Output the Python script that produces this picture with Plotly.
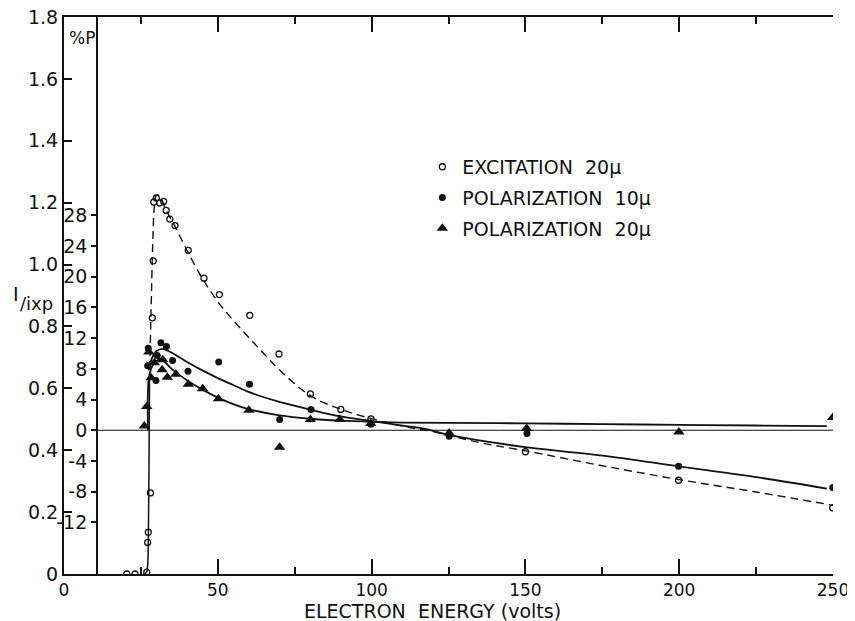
import plotly.graph_objects as go

# ---------------- data ----------------
# Excitation 20 micron (left axis, I/ixp)
exc_x = [20.4, 23.1, 26.9, 27.2, 27.4, 28.1, 28.7, 29.0, 29.2, 30.0, 31.1, 32.4, 33.2,
         34.4, 36.1, 40.4, 45.5, 50.5, 60.4, 69.9, 80.1, 90.0, 99.8, 150.0, 199.8, 249.9]
exc_y = [0.0, 0.0, 0.006, 0.102, 0.135, 0.262, 0.828, 1.012, 1.202, 1.215, 1.199, 1.204,
         1.175, 1.147, 1.126, 1.046, 0.956, 0.903, 0.836, 0.711, 0.582, 0.532, 0.501,
         0.395, 0.303, 0.214]

# Polarization 10 micron (%P axis)
pol10_x = [27.2, 27.4, 29.9, 30.3, 31.5, 33.3, 35.3, 40.3, 50.3, 60.3, 70.1, 80.3, 99.8,
           125.2, 150.5, 199.8, 249.9]
pol10_y = [8.4, 10.7, 6.5, 9.75, 11.4, 10.9, 9.1, 7.7, 8.9, 6.0, 1.4, 2.7, 0.78,
           -0.78, -0.43, -4.7, -7.45]

# Polarization 20 micron (%P axis)
pol20_x = [26.1, 26.9, 27.6, 28.3, 29.4, 31.9, 32.1, 33.6, 36.4, 40.4, 45.1, 50.2, 60.1,
           70.1, 80.1, 89.7, 99.7, 125.2, 150.4, 199.9, 249.9]
pol20_y = [0.56, 3.1, 10.2, 6.85, 8.8, 7.9, 9.2, 6.9, 7.3, 6.0, 5.4, 4.1, 2.6,
           -2.2, 1.4, 1.4, 0.87, -0.35, 0.22, -0.22, 1.65]

# Hand-drawn curves
exc_lo_x = [26.0, 26.8, 27.2, 27.4, 27.6, 27.8]
exc_lo_y = [0.0, 0.005, 0.03, 0.1, 0.3, 0.62]
exc_hi_x = [27.8, 28.3, 28.8, 29.3, 29.8, 30.5, 31.5, 33.0, 36.0, 40.0, 45.0, 50.0, 55.0,
            60.0, 65.0, 70.0, 80.0, 90.0, 100.0, 110.0, 120.0, 135.0, 150.0, 175.0,
            200.0, 225.0, 250.0]
exc_hi_y = [0.62, 0.85, 1.05, 1.18, 1.22, 1.225, 1.215, 1.18, 1.125, 1.045, 0.955, 0.88,
            0.82, 0.765, 0.712, 0.66, 0.577, 0.532, 0.502, 0.478, 0.46, 0.425, 0.398,
            0.35, 0.305, 0.265, 0.222]

c10_x = [27.5, 28.5, 30, 32, 35, 40, 45, 50, 55, 60, 70, 80, 90, 100, 110, 117, 125,
         150, 175, 200, 225, 248]
c10_y = [7.8, 9.3, 10.3, 10.6, 10.1, 8.9, 7.8, 6.8, 5.9, 5.0, 3.7, 2.7, 1.8, 1.2, 0.6,
         0.2, -0.6, -2.2, -3.3, -4.7, -6.1, -7.6]

c20_x = [27.3, 27.5, 28.5, 30, 31.2, 33, 35, 37.7, 42, 48.5, 55, 60, 70, 80, 90, 100,
         110, 125, 150, 175, 200, 225, 248]
c20_y = [0.0, 6.5, 8.2, 9.0, 9.3, 8.8, 8.0, 7.15, 6.0, 4.55, 3.4, 2.75, 1.95, 1.5, 1.25,
         1.1, 1.0, 0.95, 0.9, 0.8, 0.7, 0.62, 0.55]

# tick labels
y_ticks = [0, 0.2, 0.4, 0.6, 0.8, 1.0, 1.2, 1.4, 1.6, 1.8]
y_ticktext = ["0", "0.2", "0.4", "0.6", "0.8", "1.0", "1.2", "1.4", "1.6", "1.8"]
p_ticks = [-12, -8, -4, 0, 4, 8, 12, 16, 20, 24, 28]
p_ticktext = ["-12", "-8", "-4", "0", "4", "8", "12", "16", "20", "24", "28"]
x_ticks = [0, 50, 100, 150, 200, 250]
x_minor = [25, 75, 125, 175, 225]

# axis calibration
X_RANGE = [0, 250]
Y_RANGE = [0, 1.8]
P_ZERO_I = 0.4645        # I/ixp value where %P = 0
P_SCALE = 0.0248         # I/ixp per 1 %P
P_AXIS_X = 10.8          # energy where %P axis is drawn
P_RANGE = [(Y_RANGE[0] - P_ZERO_I) / P_SCALE, (Y_RANGE[1] - P_ZERO_I) / P_SCALE]

FONT = "DejaVu Sans"
BLACK = "#111111"

fig = go.Figure()

# curves
fig.add_trace(go.Scatter(x=exc_lo_x, y=exc_lo_y, mode="lines", showlegend=False,
                         line=dict(color=BLACK, width=1.5, shape="spline"), hoverinfo="skip"))
fig.add_trace(go.Scatter(x=exc_hi_x, y=exc_hi_y, mode="lines", showlegend=False,
                         line=dict(color=BLACK, width=1.4, dash="8px,5px", shape="spline"),
                         hoverinfo="skip"))
fig.add_trace(go.Scatter(x=c10_x, y=c10_y, yaxis="y2", mode="lines", showlegend=False,
                         line=dict(color=BLACK, width=1.8, shape="spline"), hoverinfo="skip"))
fig.add_trace(go.Scatter(x=c20_x, y=c20_y, yaxis="y2", mode="lines", showlegend=False,
                         line=dict(color=BLACK, width=1.8, shape="spline"), hoverinfo="skip"))

# data points
fig.add_trace(go.Scatter(x=exc_x, y=exc_y, mode="markers", name="EXCITATION  20\u03bc",
                         legendgroup="a",
                         marker=dict(symbol="circle-open", size=6, color=BLACK,
                                     line=dict(width=1.3, color=BLACK))))
fig.add_trace(go.Scatter(x=pol10_x, y=pol10_y, yaxis="y2", mode="markers",
                         name="POLARIZATION  10\u03bc", legendgroup="b",
                         marker=dict(symbol="circle", size=7, color=BLACK)))
fig.add_trace(go.Scatter(x=pol20_x, y=pol20_y, yaxis="y2", mode="markers",
                         name="POLARIZATION  20\u03bc", legendgroup="c",
                         marker=dict(symbol="triangle-up", size=10, color=BLACK)))

# %P zero line
fig.add_shape(type="line", xref="x", yref="y2", x0=P_AXIS_X, x1=X_RANGE[1], y0=0, y1=0,
              line=dict(color=BLACK, width=1), layer="below")

p_pos = (P_AXIS_X - X_RANGE[0]) / (X_RANGE[1] - X_RANGE[0])

# the page body has an 8px margin, so the figure is shifted by 8px; sizes compensate
fig.update_layout(
    width=847, height=613,
    margin=dict(l=56, r=22, t=9, b=47, autoexpand=False),
    paper_bgcolor="white", plot_bgcolor="white",
    font=dict(family=FONT, size=18, color=BLACK),
    showlegend=True,
    legend=dict(x=0.466, y=0.765, xanchor="left", yanchor="top",
                bgcolor="rgba(0,0,0,0)", borderwidth=0,
                font=dict(family=FONT, size=19, color=BLACK),
                tracegroupgap=3, itemwidth=30),
    xaxis=dict(range=X_RANGE, tickvals=x_ticks, ticks="inside", ticklen=15, tickwidth=1.5,
               tickcolor=BLACK, showline=True, linewidth=2, linecolor=BLACK,
               mirror="ticks", showgrid=False, zeroline=False, automargin=False,
               tickfont=dict(family=FONT, size=17),
               minor=dict(tickvals=x_minor, ticks="inside", ticklen=7, tickwidth=1.5,
                          tickcolor=BLACK, showgrid=False)),
    yaxis=dict(range=Y_RANGE, tickvals=y_ticks, ticktext=y_ticktext, ticks="inside",
               ticklen=8, tickwidth=1.5, tickcolor=BLACK, showline=True, linewidth=2,
               linecolor=BLACK, showgrid=False, zeroline=False, automargin=False,
               ticklabeloverflow="allow", tickfont=dict(family=FONT, size=19)),
    yaxis2=dict(range=P_RANGE, overlaying="y", anchor="free", position=p_pos, side="left",
                tickvals=p_ticks, ticktext=p_ticktext, ticks="outside", ticklen=5,
                tickwidth=1.5, tickcolor=BLACK, showline=True, linewidth=2.2,
                linecolor=BLACK, showgrid=False, zeroline=False, automargin=False,
                tickfont=dict(family=FONT, size=19)),
    yaxis3=dict(range=Y_RANGE, overlaying="y", anchor="x", side="right",
                tickvals=y_ticks, ticks="inside", ticklen=17, tickwidth=1.5,
                tickcolor=BLACK, showline=True, linewidth=2, linecolor=BLACK,
                showticklabels=False, showgrid=False, zeroline=False, automargin=False),
)

# axis titles
fig.add_annotation(text="ELECTRON  ENERGY (volts)", xref="paper", yref="paper",
                   x=0.479, y=-0.067, xanchor="center", yanchor="middle", showarrow=False,
                   font=dict(family=FONT, size=19, color=BLACK))
fig.add_annotation(text="I", xref="paper", yref="paper",
                   x=-0.069, y=0.502, xanchor="left", yanchor="middle", showarrow=False,
                   font=dict(family=FONT, size=19, color=BLACK))
fig.add_annotation(text="/ixp", xref="paper", yref="paper",
                   x=-0.060, y=0.485, xanchor="left", yanchor="middle", showarrow=False,
                   font=dict(family=FONT, size=18, color=BLACK))
fig.add_annotation(text="%P", xref="paper", yref="paper",
                   x=p_pos, y=0.962, xanchor="right", yanchor="middle", showarrow=False,
                   font=dict(family=FONT, size=17, color=BLACK))

fig.write_html("out.html")
